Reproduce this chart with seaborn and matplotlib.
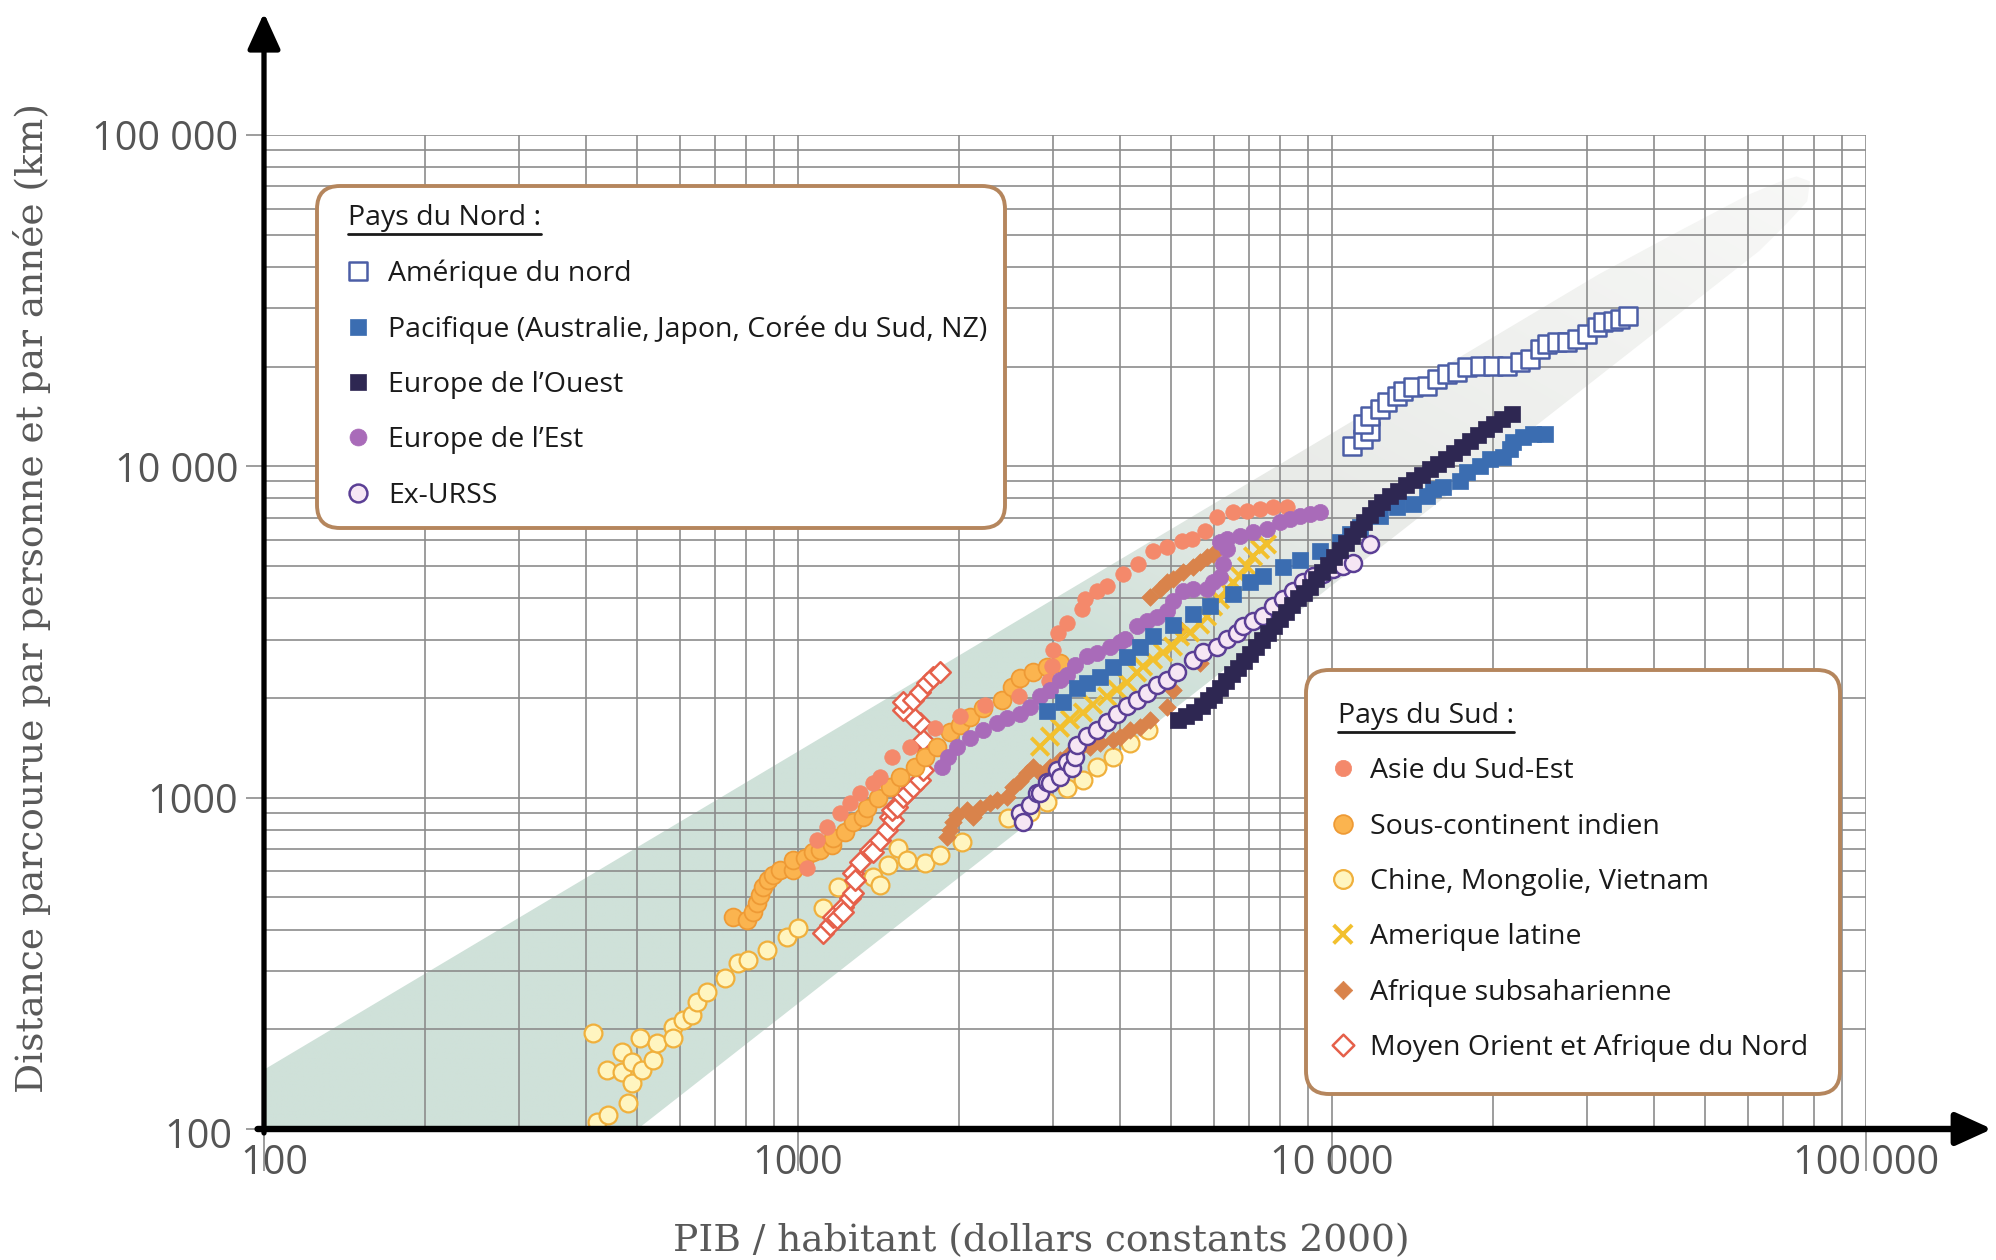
import numpy as np
import pandas as pd
import matplotlib
matplotlib.use("Agg")
import matplotlib.pyplot as plt
import matplotlib.transforms as mtransforms
from matplotlib.patches import Polygon, ArrowStyle
from matplotlib.lines import Line2D
from matplotlib.ticker import FixedLocator, FixedFormatter, LogLocator, NullFormatter
import seaborn as sns

# ---------------- data (GDP per capita, km per person per year) ----------------
na_x = [10900, 11430, 11780, 11430, 11780, 12300, 12680, 13230, 13580, 14180, 15060, 15720, 16420,
        17150, 17890, 18930, 20020, 21270, 22500, 23480, 24520, 25270, 26390, 27550, 28760, 30030,
        31350, 32170, 33590, 34620, 35830]
na_y = [11490, 12070, 12760, 13400, 14160, 14870, 15610, 16280, 16850, 17330, 17450, 18320, 18970,
        19230, 19910, 20050, 20050, 20050, 20620, 21060, 22570, 23370, 23690, 23690, 24190, 25050,
        26300, 27230, 27420, 27810, 28400]

pac_x = [2927, 3136, 3330, 3477, 3678, 3890, 4132, 4370, 4622, 5037, 5493, 5910, 6527, 7022, 7427,
         8094, 8711, 9495, 10350, 10810, 11280, 12300, 13230, 14180, 15060, 15460, 16140, 17360,
         17890, 18930, 19760, 20900, 21540, 21830, 22790, 23790, 25060]
pac_y = [1831, 1950, 2149, 2226, 2321, 2488, 2667, 2859, 3065, 3309, 3572, 3776, 4106, 4463, 4654,
         4954, 5200, 5537, 5893, 6233, 6542, 7062, 7518, 7678, 8118, 8522, 8642, 9009, 9592, 10000,
         10500, 10650, 11250, 11820, 12230, 12490, 12490]

weu_x = [5148, 5329, 5517, 5711, 5860, 6012, 6171, 6333, 6498, 6668, 6842, 7022, 7206, 7395, 7587,
         7787, 7991, 8201, 8417, 8636, 8863, 9095, 9333, 9579, 9829, 10090, 10350, 10620, 10900,
         11190, 11480, 11780, 12090, 12410, 12840, 13290, 13760, 14240, 14740, 15260, 15790, 16350,
         16920, 17520, 18130, 18770, 19430, 20110, 20820, 21730]
weu_y = [1720, 1769, 1819, 1896, 1978, 2047, 2149, 2257, 2370, 2470, 2594, 2723, 2840, 2981, 3130,
         3286, 3450, 3623, 3803, 3992, 4133, 4310, 4557, 4784, 5022, 5310, 5574, 5853, 6144, 6453,
         6773, 7112, 7466, 7784, 8118, 8404, 8762, 9073, 9393, 9793, 10140, 10500, 10950, 11410,
         11900, 12410, 12940, 13400, 13870, 14360]

est_x = [1861, 1909, 1985, 2100, 2221, 2359, 2463, 2605, 2720, 2840, 2964, 3095, 3189, 3302, 3477,
         3631, 3839, 4009, 4097, 4313, 4504, 4703, 4909, 5037, 5260, 5493, 5834, 5988, 6171, 6252,
         6360, 6171, 6360, 6725, 7113, 7554, 7991, 8342, 8711, 9095, 9495]
est_y = [1241, 1330, 1426, 1518, 1605, 1685, 1745, 1794, 1883, 2020, 2120, 2273, 2353, 2522, 2685,
         2742, 2840, 2940, 3002, 3286, 3402, 3498, 3647, 3909, 4193, 4251, 4251, 4463, 4621, 5056,
         5614, 5893, 6019, 6144, 6319, 6453, 6773, 6917, 7062, 7161, 7261]

urss_x = [2605, 2638, 2720, 2803, 2840, 2927, 2964, 3055, 3095, 3189, 3260, 3300, 3330, 3477, 3631,
          3791, 3957, 4132, 4313, 4504, 4703, 4909, 5125, 5493, 5734, 6090, 6360, 6639, 6813, 7113,
          7427, 7753, 8094, 8453, 8825, 9214, 9618, 10040, 10480, 10950, 11780]
urss_y = [901, 846, 953, 1035, 1035, 1118, 1110, 1215, 1157, 1285, 1232, 1330, 1446, 1539, 1605,
          1697, 1794, 1896, 1978, 2076, 2195, 2273, 2403, 2612, 2761, 2859, 3002, 3151, 3286, 3402,
          3523, 3776, 3964, 4193, 4463, 4654, 4718, 4885, 4988, 5093, 5813]

asia_x = [1039, 1085, 1133, 1199, 1252, 1307, 1382, 1424, 1500, 1621, 1806, 2011, 2240, 2594, 2950,
          2990, 3003, 3068, 3189, 3402, 3447, 3631, 3791, 4061, 4332, 4622, 4909, 5238, 5469, 5784,
          6090, 6527, 6932, 7332, 7753, 8236]
asia_y = [614, 747, 817, 901, 966, 1035, 1110, 1157, 1330, 1426, 1627, 1760, 1900, 2020, 2250,
          2500, 2799, 3151, 3378, 3698, 3964, 4193, 4341, 4718, 5056, 5537, 5693, 5935, 6019, 6363,
          7013, 7261, 7316, 7415, 7518, 7518]

india_x = [755, 803, 823, 838, 849, 860, 879, 898, 925, 979, 979, 1030, 1067, 1099, 1158, 1161, 1225,
           1268, 1323, 1347, 1412, 1487, 1552, 1656, 1730, 1821, 1926, 2011, 2100, 2221, 2410, 2516,
           2605, 2755, 2927, 3095]
india_y = [437, 428, 452, 482, 509, 538, 565, 585, 606, 606, 650, 659, 687, 697, 721, 757, 789,
           846, 876, 933, 1000, 1080, 1157, 1241, 1330, 1426, 1583, 1662, 1757, 1871, 1978, 2164,
           2304, 2403, 2488, 2558]

china_x = [413, 420, 439, 441, 468, 468, 480, 489, 489, 506, 510, 535, 544, 583, 583, 609, 633, 647,
           676, 730, 772, 806, 875, 954, 1000, 1114, 1188, 1382, 1424, 1474, 1539, 1600, 1729, 1845,
           2028, 2474, 2720, 2927, 3189, 3417, 3631, 3890, 4186, 4523]
china_y = [195, 105, 151, 110, 171, 149, 120, 159, 138, 188, 151, 162, 182, 203, 188, 213, 221, 242,
           259, 286, 317, 324, 347, 380, 405, 465, 538, 577, 546, 628, 706, 650, 636, 673, 737, 870,
           907, 973, 1072, 1133, 1241, 1330, 1466, 1605]

lat_x = [2840, 2964, 3095, 3232, 3417, 3568, 3791, 3957, 4132, 4313, 4427, 4622, 4826, 5037, 5193,
         5422, 5662, 5834, 5988, 6171, 6360, 6527, 6725, 6932, 7113, 7332, 7554]
lat_y = [1426, 1529, 1627, 1720, 1806, 1910, 2020, 2120, 2226, 2386, 2488, 2612, 2742, 2859, 3065,
         3151, 3332, 3523, 3776, 3964, 4251, 4463, 4654, 4988, 5347, 5614, 5813]

afr_x = [1901, 1926, 1951, 1985, 2073, 2127, 2192, 2289, 2359, 2463, 2527, 2605, 2684, 2755, 2840,
         2964, 3095, 3232, 3374, 3523, 3678, 3890, 4009, 4186, 4370, 4562, 4909, 5037, 5662, 5193,
         4562, 4764, 4909, 5037, 5260, 5493, 5662, 5834, 5988]
afr_y = [762, 800, 846, 889, 920, 876, 933, 966, 986, 1007, 1080, 1126, 1190, 1241, 1190, 1241,
         1302, 1368, 1416, 1426, 1466, 1497, 1529, 1605, 1639, 1720, 1883, 2120, 2558, 3218, 4020,
         4251, 4463, 4557, 4784, 4954, 5129, 5310, 5422]

moan_x = [1114, 1148, 1161, 1183, 1214, 1214, 1252, 1268, 1268, 1279, 1307, 1364, 1382, 1424, 1468,
          1487, 1507, 1500, 1532, 1573, 1600, 1642, 1692, 1714, 1744, 1714, 1692, 1642, 1573, 1573,
          1642, 1692, 1744, 1790, 1845]
moan_y = [391, 413, 437, 434, 469, 452, 499, 516, 594, 565, 641, 697, 687, 747, 800, 876, 858, 920,
          939, 1007, 1035, 1080, 1133, 1215, 1396, 1497, 1685, 1757, 1845, 1950, 1978, 2090, 2226,
          2321, 2403]

# shaded trend band (outline in data units)
band_gdp = [79.4, 31623, 44668, 60256, 69183, 74131, 78524, 77625, 70795, 63096, 501, 290, 79.4]
band_km = [121, 38019, 51286, 66069, 72444, 74989, 72444, 63096, 53703, 44668, 100, 50, 50]

tick_vals = [100, 1000, 10000, 100000]
tick_text = ['100', '1000', '10\u00a0000', '100\u00a0000']

nord_labels = ['Amérique du nord', 'Pacifique (Australie, Japon, Corée du Sud, NZ)',
               'Europe de l\u2019Ouest', 'Europe de l\u2019Est', 'Ex-URSS']
sud_labels = ['Asie du Sud-Est', 'Sous-continent indien', 'Chine, Mongolie, Vietnam',
              'Amerique latine', 'Afrique subsaharienne', 'Moyen Orient et Afrique du Nord']

# ---------------- style ----------------
sns.set_theme(style="ticks")
plt.rcParams['font.family'] = ['Open Sans', 'DejaVu Sans']

fig = plt.figure(figsize=(19.96, 12.6), dpi=100)
fig.patch.set_facecolor('white')
ax = fig.add_axes([264 / 1996, 131 / 1260, 1602 / 1996, 994 / 1260])
ax.set_facecolor('white')
ax.set_xscale('log')
ax.set_yscale('log')

# (label, x, y, marker, size, face, edge, linewidth, zorder)
series = [
    ('Chine, Mongolie, Vietnam', china_x, china_y, 'o', 165, '#fff5c0', '#f0b03c', 1.6, 3),
    ('Afrique subsaharienne', afr_x, afr_y, 'D', 80, '#d9834b', '#d9834b', 0.5, 4),
    ('Moyen Orient et Afrique du Nord', moan_x, moan_y, 'D', 110, 'white', '#e5604a', 1.8, 4.5),
    ('Sous-continent indien', india_x, india_y, 'o', 165, '#fbb44f', '#ee9a35', 1.3, 5),
    ('Asie du Sud-Est', asia_x, asia_y, 'o', 125, '#f4896b', '#f4896b', 0.5, 5.5),
    ('Amerique latine', lat_x, lat_y, 'x', 160, 'none', '#f2c02e', 2.8, 6),
    ('Ex-URSS', urss_x, urss_y, 'o', 150, '#f6e6f4', '#5b3f95', 1.8, 6.5),
    ('Europe de l\u2019Est', est_x, est_y, 'o', 135, '#a96bb9', '#a96bb9', 0.5, 7),
    ('Pacifique (Australie, Japon, Corée du Sud, NZ)', pac_x, pac_y, 's', 120, '#3b6db1', '#3b6db1', 0.5, 7.5),
    ('Europe de l\u2019Ouest', weu_x, weu_y, 's', 135, '#2e2752', '#2e2752', 0.5, 8),
    ('Amérique du nord', na_x, na_y, 's', 150, 'white', '#4c5ea6', 1.8, 8.5),
]

handles = {}
for name, xs, ys, mk, s, face, edge, lw, z in series:
    df = pd.DataFrame({'gdp': xs, 'km': ys})
    sns.scatterplot(data=df, x='gdp', y='km', marker=mk, s=s, ax=ax, legend=False,
                    zorder=z, label=name)
    coll = ax.collections[-1]
    coll.set_facecolor(face)
    coll.set_edgecolor(edge)
    coll.set_linewidth(lw)
    handles[name] = coll

# ---------------- limits, grid, ticks ----------------
ax.set_xlim(100, 100000)
ax.set_ylim(100, 100000)
for axis in (ax.xaxis, ax.yaxis):
    axis.set_major_locator(FixedLocator(tick_vals))
    axis.set_major_formatter(FixedFormatter(tick_text))
    axis.set_minor_locator(LogLocator(base=10, subs=np.arange(2, 10)))
    axis.set_minor_formatter(NullFormatter())
ax.grid(True, which='both', color='#8c8c8c', linewidth=1.2)
ax.set_axisbelow(True)
for sp in ax.spines.values():
    sp.set_visible(False)

ax.tick_params(axis='both', which='minor', length=0)
ax.tick_params(axis='y', which='major', left=True, direction='out', length=13, width=1.2,
               color='#8c8c8c', pad=5.5, labelsize=28.5, labelcolor='#555555')
ax.tick_params(axis='x', which='major', bottom=True, direction='out', length=30, width=1.2,
               color='#8c8c8c', pad=-19.5, labelsize=28.5, labelcolor='#555555')

# gradient band clipped to its outline
poly = Polygon(np.column_stack([band_gdp, band_km]), closed=True, transform=ax.transData,
               facecolor='none', edgecolor='none')
n = 600
g = np.linspace(0, 1, n)
FX, FY = np.meshgrid(g, g)
S = (2 + 3 * FX) + 1.1 * (2 + 3 * FY)
s_stops = [0, 7.35, 8.25, 10.3]
c_stops = [(207, 225, 217), (207, 225, 217), (233, 235, 232), (248, 248, 247)]
rgb = np.stack([np.interp(S, s_stops, [c[i] for c in c_stops]) for i in range(3)], axis=-1) / 255.0
im = ax.imshow(rgb, extent=(0, 1, 0, 1), origin='lower', transform=ax.transAxes, aspect='auto',
               interpolation='bilinear', zorder=0.2)
im.set_clip_path(poly)
ax.set_xlim(100, 100000)
ax.set_ylim(100, 100000)

# axis labels
ax.set_xlabel('PIB / habitant (dollars constants 2000)', fontsize=27, color='#595959',
              family=['DejaVu Serif'], va='center')
ax.xaxis.set_label_coords(0.485, -0.1127)
ax.set_ylabel('Distance parcourue par personne et par année (km)', fontsize=27, color='#595959',
              family=['DejaVu Serif'], va='center')
ax.yaxis.set_label_coords(-0.1448, 0.534)

# arrow axes
arr = ArrowStyle('-|>', head_length=0.55, head_width=0.25)
ax.annotate('', xy=(0, 1.1227), xytext=(0, -0.004), xycoords='axes fraction',
            textcoords='axes fraction', annotation_clip=False, zorder=12,
            arrowprops=dict(arrowstyle=arr, color='black', lw=3.8, mutation_scale=40,
                            shrinkA=0, shrinkB=0))
ax.annotate('', xy=(1.0787, 0), xytext=(-0.004, 0), xycoords='axes fraction',
            textcoords='axes fraction', annotation_clip=False, zorder=12,
            arrowprops=dict(arrowstyle=arr, color='black', lw=4.6, mutation_scale=40,
                            shrinkA=0, shrinkB=0))

# corner "100" labels nudged like the original
xl = ax.get_xticklabels()
xl[0].set_transform(xl[0].get_transform() +
                    mtransforms.ScaledTranslation(10 / 100, 0, fig.dpi_scale_trans))
yl = ax.get_yticklabels()
yl[0].set_transform(yl[0].get_transform() +
                    mtransforms.ScaledTranslation(-6 / 100, -4 / 100, fig.dpi_scale_trans))

# ---------------- legends ----------------
fp = {'family': ['Open Sans', 'DejaVu Sans'], 'size': 20.5}
common = dict(loc='upper left', bbox_transform=fig.transFigure, borderaxespad=0, frameon=True,
              fancybox=True, framealpha=1, facecolor='white', edgecolor='#b5865d', prop=fp,
              title_fontproperties=fp, labelspacing=0.96, scatterpoints=1,
              scatteryoffsets=[0.5], markerscale=1.05, alignment='left', labelcolor='#1a1a1a')

leg1 = ax.legend(handles=[handles[k] for k in nord_labels], labels=nord_labels,
                 title='Pays du Nord :', bbox_to_anchor=(317 / 1996, 1 - 186 / 1260),
                 borderpad=0.63, handlelength=1.61, handletextpad=0.25, **common)
ax.add_artist(leg1)
leg2 = ax.legend(handles=[handles[k] for k in sud_labels], labels=sud_labels,
                 title='Pays du Sud :', bbox_to_anchor=(1306 / 1996, 1 - 670 / 1260),
                 borderpad=1.12, handlelength=0.35, handletextpad=0.77, **common)
for leg in (leg1, leg2):
    leg.set_zorder(20)
    fr = leg.get_frame()
    fr.set_boxstyle('round', pad=0, rounding_size=0.8)
    fr.set_linewidth(2.8)
    leg.get_title().set_color('#1a1a1a')

leg1.get_title().set_position((13, 0))

fig.canvas.draw()
inv = fig.transFigure.inverted()
for leg in (leg1, leg2):
    bb = leg.get_title().get_window_extent()
    (x0, y0), (x1, _) = inv.transform([(bb.x0, bb.y0 - 2.5), (bb.x1, bb.y0 - 2.5)])
    fig.add_artist(Line2D([x0, x1], [y0, y0], transform=fig.transFigure, color='#1a1a1a',
                          lw=2.0, zorder=30))

fig.savefig('out.png', dpi=100, facecolor='white')
